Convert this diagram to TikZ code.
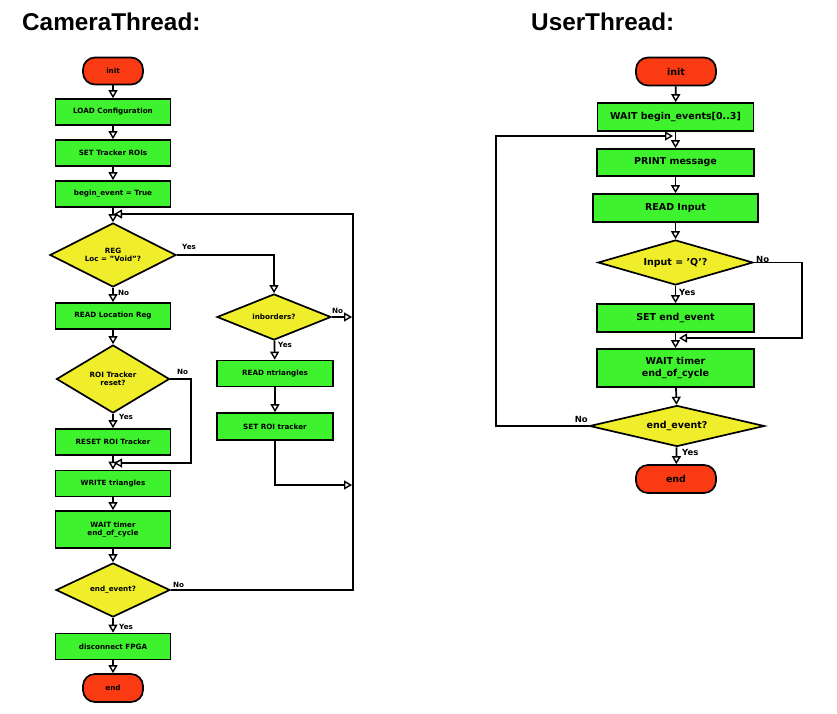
\documentclass[tikz,border=0pt]{standalone}
\usepackage{fontspec}
\setmainfont{DejaVu Sans}
\newfontfamily\titlefont{Liberation Sans}
\usetikzlibrary{shapes.geometric,arrows.meta}
\definecolor{boxgreen}{RGB}{62,242,46}
\definecolor{decyellow}{RGB}{240,238,42}
\definecolor{termred}{RGB}{250,58,18}
\tikzset{
  base/.style={draw=black,line width=1.7pt,inner sep=0pt,align=center,font=\bfseries\fontsize{7.2}{8.6}\selectfont},
  proc/.style={base,rectangle,fill=boxgreen},
  dec/.style={base,diamond,aspect=3,fill=decyellow},
  term/.style={base,rectangle,rounded corners=12pt,fill=termred},
  bigtxt/.style={font=\bfseries\fontsize{9.5}{11.2}\selectfont},
  conn/.style={line width=1.7pt,draw=black},
  arr/.style={conn,-{Triangle[open,length=8pt,width=9pt,line width=1.4pt]}},
  lbl/.style={inner sep=0pt,font=\bfseries\fontsize{7.2}{8.6}\selectfont},
  lblbig/.style={inner sep=0pt,font=\bfseries\fontsize{8.5}{10}\selectfont},
  ttl/.style={inner sep=0pt,anchor=base west,font=\titlefont\bfseries\fontsize{24.3}{28}\selectfont}
}
\begin{document}
\begin{tikzpicture}[x=1pt,y=-1pt]
\useasboundingbox (0,0) rectangle (837,713);
% titles
\node[ttl] (t1) at (22,30) {CameraThread:};
\node[ttl] (t2) at (531,30) {UserThread:};

% ---------- CameraThread ----------
\node[term,minimum width=60pt,minimum height=27pt] (init) at (113,71) {init};
\node[proc,minimum width=115pt,minimum height=26pt] (load) at (113,112) {LOAD Configuration};
\node[proc,minimum width=115pt,minimum height=26pt] (settr) at (113,153) {SET Tracker ROIs};
\node[proc,minimum width=115pt,minimum height=26pt] (begin) at (113,194) {begin\_event = True};
\node[dec,minimum width=126pt,minimum height=64pt] (reg) at (113,255) {REG\\Loc = \symbol{34}Void\symbol{34}?};
\node[proc,minimum width=115pt,minimum height=26pt] (readloc) at (113,316) {READ Location Reg};
\node[dec,minimum width=113pt,minimum height=68pt] (roirst) at (113,379) {ROI Tracker\\reset?};
\node[proc,minimum width=115pt,minimum height=26pt] (resetroi) at (113,442) {RESET ROI Tracker};
\node[proc,minimum width=115pt,minimum height=26pt] (write) at (113,483.5) {WRITE triangles};
\node[proc,minimum width=115pt,minimum height=37pt] (wait) at (113,529.5) {WAIT timer\\end\_of\_cycle};
\node[dec,minimum width=114pt,minimum height=54pt] (endev) at (113,590) {end\_event?};
\node[proc,minimum width=115pt,minimum height=26pt] (disc) at (113,646.5) {disconnect FPGA};
\node[term,minimum width=60pt,minimum height=28pt] (end) at (113,688) {end};

\node[dec,minimum width=114pt,minimum height=46pt] (inb) at (274,317) {inborders?};
\node[proc,minimum width=116pt,minimum height=26pt] (readnt) at (275,373.5) {READ ntriangles};
\node[proc,minimum width=116pt,minimum height=27pt] (setroi) at (275,426.5) {SET ROI tracker};

\coordinate (m1) at (114,214);
\coordinate (rtop) at (353,214);
\coordinate (m2) at (114,463);
\coordinate (nobend) at (191,379);
\coordinate (rin1) at (352,317);
\coordinate (rin2) at (352,485);

\draw[arr] (init) -- (load);
\draw[arr] (load) -- (settr);
\draw[arr] (settr) -- (begin);
\draw[arr] (begin) -- (reg);
\draw[arr] (reg) -- (readloc);
\draw[arr] (readloc) -- (roirst);
\draw[arr] (roirst) -- (resetroi);
\draw[arr] (resetroi) -- (write);
\draw[arr] (write) -- (wait);
\draw[arr] (wait) -- (endev);
\draw[arr] (endev) -- (disc);
\draw[arr] (disc) -- (end);
\draw[arr] (reg.east) -| (inb.north);
\draw[arr] (inb) -- (readnt);
\draw[arr] (readnt) -- (setroi);
\draw[arr] (inb.east) -- (rin1);
\draw[arr] (setroi.south) |- (rin2);
\draw[arr] (roirst.east) -- (nobend) |- (m2);
\draw[arr] (endev.east) -| (rtop) -- (m1);

\node[lbl,anchor=south west] (l1) at (182,250) {Yes};
\node[lbl,anchor=west] (l2) at (118,293) {No};
\node[lbl,anchor=south west] (l3) at (332,314) {No};
\node[lbl,anchor=west] (l4) at (278,345) {Yes};
\node[lbl,anchor=south west] (l5) at (177,375) {No};
\node[lbl,anchor=west] (l6) at (119,417) {Yes};
\node[lbl,anchor=south west] (l7) at (173,588) {No};
\node[lbl,anchor=west] (l8) at (119,627) {Yes};

% ---------- UserThread ----------
\node[term,bigtxt,minimum width=80pt,minimum height=28pt] (init2) at (676,71.5) {init};
\node[proc,bigtxt,minimum width=156pt,minimum height=28pt] (waitb) at (675.5,117) {WAIT begin\_events[0..3]};
\node[proc,bigtxt,minimum width=157pt,minimum height=27pt] (print) at (675.5,162.5) {PRINT message};
\node[proc,bigtxt,minimum width=165pt,minimum height=28pt] (readin) at (675.5,208) {READ Input};
\node[dec,bigtxt,minimum width=155pt,minimum height=45pt] (inq) at (675.5,262.5) {Input = \symbol{39}Q\symbol{39}?};
\node[proc,bigtxt,minimum width=157pt,minimum height=28pt] (setend) at (675.5,318) {SET end\_event};
\node[proc,bigtxt,minimum width=157pt,minimum height=38pt] (wait2) at (675.5,368) {WAIT timer\\end\_of\_cycle};
\node[dec,bigtxt,minimum width=175pt,minimum height=41pt] (endev2) at (677,426) {end\_event?};
\node[term,bigtxt,minimum width=80pt,minimum height=28pt] (end2) at (676,479) {end};

\coordinate (m3) at (673,136);
\coordinate (ltop) at (496,136);
\coordinate (m4) at (679,338);
\coordinate (qbend) at (802,262.5);

\draw[arr] (init2) -- (waitb);
\draw[arr] (waitb) -- (print);
\draw[arr] (print) -- (readin);
\draw[arr] (readin) -- (inq);
\draw[arr] (inq) -- (setend);
\draw[arr] (setend) -- (wait2);
\draw[arr] (wait2) -- (endev2);
\draw[arr] (endev2) -- (end2);
\draw[arr] (inq.east) -- (qbend) |- (m4);
\draw[arr] (endev2.west) -| (ltop) -- (m3);

\node[lblbig,anchor=south west] (l9) at (756,263) {No};
\node[lblbig,anchor=west] (l10) at (679,292) {Yes};
\node[lblbig,anchor=south east] (l11) at (588,423) {No};
\node[lblbig,anchor=west] (l12) at (682,452) {Yes};
\end{tikzpicture}
\end{document}
